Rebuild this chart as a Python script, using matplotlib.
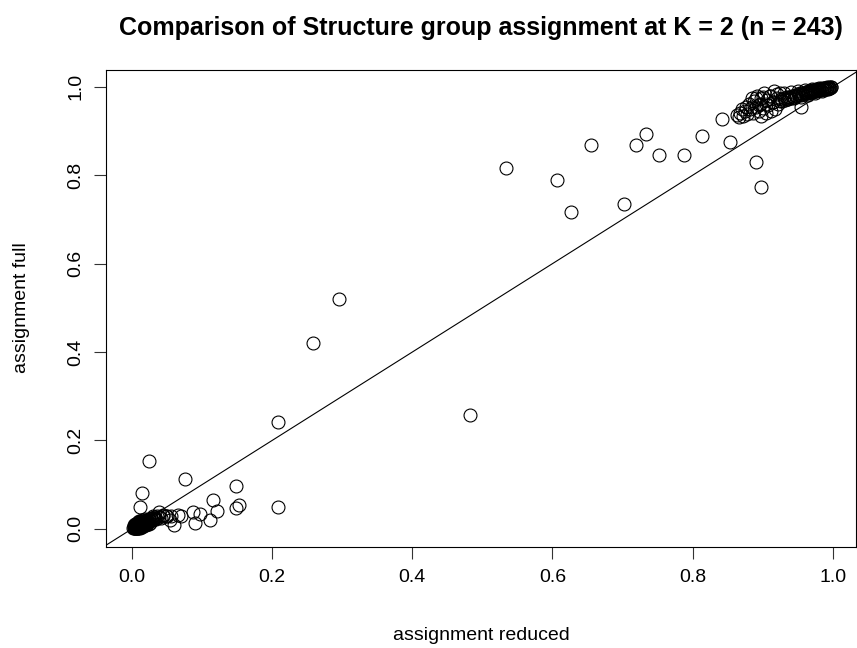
import numpy as np
import matplotlib.pyplot as plt

plt.rc('font', family='Liberation Sans', size=12)

# assignment reduced (x) / assignment full (y)
# punti sparsi
x_sparsi = [0.024, 0.076, 0.015, 0.012, 0.149, 0.116, 0.209, 0.153, 0.149, 0.121,
            0.111, 0.090, 0.087, 0.097, 0.066, 0.060, 0.054, 0.045, 0.038, 0.208,
            0.258, 0.295, 0.482, 0.534, 0.607, 0.627, 0.655, 0.702, 0.719, 0.734,
            0.752, 0.788, 0.814, 0.842, 0.853, 0.891, 0.897, 0.863, 0.954, 0.898,
            0.030, 0.034, 0.042, 0.048, 0.056, 0.070]
y_sparsi = [0.154, 0.112, 0.081, 0.050, 0.098, 0.066, 0.050, 0.054, 0.048, 0.041,
            0.020, 0.013, 0.039, 0.034, 0.032, 0.009, 0.020, 0.032, 0.039, 0.242,
            0.421, 0.520, 0.258, 0.817, 0.789, 0.717, 0.869, 0.735, 0.869, 0.893,
            0.845, 0.845, 0.888, 0.928, 0.875, 0.831, 0.773, 0.937, 0.955, 0.933,
            0.028, 0.022, 0.025, 0.030, 0.028, 0.028]

# gruppo vicino a 0
x_basso = [0.002, 0.003, 0.003, 0.004, 0.004, 0.004, 0.005, 0.005, 0.005, 0.005,
           0.006, 0.006, 0.006, 0.007, 0.007, 0.007, 0.008, 0.008, 0.008, 0.009,
           0.009, 0.009, 0.010, 0.010, 0.010, 0.011, 0.011, 0.011, 0.012, 0.012,
           0.012, 0.013, 0.013, 0.014, 0.014, 0.015, 0.015, 0.016, 0.016, 0.017,
           0.017, 0.018, 0.018, 0.019, 0.019, 0.020, 0.020, 0.021, 0.022, 0.022,
           0.023, 0.024, 0.025, 0.026, 0.027, 0.028, 0.029, 0.030, 0.031, 0.032,
           0.004, 0.006, 0.008, 0.010, 0.012, 0.014, 0.016, 0.018, 0.020, 0.024,
           0.007, 0.009, 0.011, 0.013, 0.015, 0.017, 0.019, 0.021, 0.026, 0.033,
           0.036, 0.039, 0.044, 0.050, 0.003]
y_basso = [0.001, 0.002, 0.004, 0.003, 0.005, 0.001, 0.004, 0.006, 0.002, 0.008,
           0.005, 0.003, 0.009, 0.006, 0.002, 0.010, 0.004, 0.007, 0.012, 0.006,
           0.003, 0.011, 0.008, 0.005, 0.013, 0.007, 0.010, 0.004, 0.009, 0.014,
           0.006, 0.011, 0.008, 0.012, 0.007, 0.010, 0.015, 0.013, 0.009, 0.012,
           0.017, 0.014, 0.010, 0.016, 0.012, 0.015, 0.019, 0.013, 0.017, 0.021,
           0.015, 0.019, 0.022, 0.018, 0.024, 0.021, 0.020, 0.025, 0.023, 0.027,
           0.010, 0.012, 0.015, 0.018, 0.003, 0.005, 0.006, 0.008, 0.009, 0.012,
           0.001, 0.002, 0.016, 0.018, 0.020, 0.008, 0.022, 0.010, 0.014, 0.024,
           0.030, 0.026, 0.028, 0.030, 0.008]

# gruppo vicino a 1
x_alto = [0.998, 0.997, 0.996, 0.995, 0.995, 0.994, 0.993, 0.992, 0.992, 0.991,
          0.990, 0.989, 0.988, 0.988, 0.987, 0.986, 0.985, 0.984, 0.983, 0.982,
          0.981, 0.980, 0.979, 0.978, 0.977, 0.976, 0.975, 0.974, 0.973, 0.972,
          0.971, 0.970, 0.969, 0.968, 0.967, 0.966, 0.965, 0.964, 0.963, 0.962,
          0.961, 0.960, 0.958, 0.956, 0.955, 0.953, 0.951, 0.950, 0.948, 0.946,
          0.944, 0.942, 0.940, 0.938, 0.936, 0.934, 0.932, 0.930, 0.928, 0.926,
          0.924, 0.922, 0.920, 0.918, 0.916, 0.914, 0.912, 0.910, 0.908, 0.906,
          0.904, 0.902, 0.900, 0.898, 0.896, 0.894, 0.892, 0.890, 0.888, 0.886,
          0.884, 0.882, 0.880, 0.878, 0.876, 0.874, 0.872, 0.870, 0.868, 0.866,
          0.990, 0.985, 0.980, 0.975, 0.970, 0.965, 0.960, 0.955, 0.950, 0.945,
          0.940, 0.935, 0.930, 0.925, 0.920, 0.915, 0.910, 0.905, 0.900, 0.895,
          0.890, 0.885]
y_alto = [0.999, 0.999, 0.998, 0.999, 0.997, 0.998, 0.996, 0.999, 0.997, 0.998,
          0.996, 0.997, 0.995, 0.998, 0.996, 0.994, 0.997, 0.995, 0.993, 0.996,
          0.994, 0.992, 0.995, 0.993, 0.991, 0.994, 0.992, 0.990, 0.993, 0.991,
          0.989, 0.992, 0.990, 0.988, 0.991, 0.989, 0.987, 0.990, 0.986, 0.988,
          0.985, 0.987, 0.984, 0.986, 0.982, 0.985, 0.981, 0.983, 0.979, 0.982,
          0.978, 0.980, 0.975, 0.978, 0.973, 0.976, 0.970, 0.974, 0.967, 0.972,
          0.985, 0.960, 0.975, 0.950, 0.990, 0.965, 0.945, 0.980, 0.958, 0.970,
          0.940, 0.985, 0.952, 0.975, 0.962, 0.945, 0.980, 0.955, 0.968, 0.940,
          0.975, 0.950, 0.962, 0.938, 0.955, 0.945, 0.935, 0.950, 0.940, 0.932,
          0.995, 0.990, 0.997, 0.985, 0.994, 0.982, 0.992, 0.978, 0.990, 0.975,
          0.988, 0.972, 0.985, 0.968, 0.983, 0.965, 0.980, 0.962, 0.977, 0.958,
          0.975, 0.955]

x_tick = [0.0, 0.2, 0.4, 0.6, 0.8, 1.0]
y_tick = [0.0, 0.2, 0.4, 0.6, 0.8, 1.0]

x = np.array(x_sparsi + x_basso + x_alto)
y = np.array(y_sparsi + y_basso + y_alto)
n = len(x)

fig = plt.figure(figsize=(8.57, 6.48), dpi=100)
ax = fig.add_axes([106 / 857, 1 - 547 / 648, 750 / 857, 477 / 648])

ax.plot(x, y, 'o', ms=9.3, mfc='none', mec='black', mew=0.8, ls='none')
ax.axline((0, 0), slope=1, color='black', lw=0.8)

ax.set_xlim(-0.037, 1.033)
ax.set_ylim(-0.041, 1.038)

ax.set_xticks(x_tick)
ax.set_xticklabels([f'{v:.1f}' for v in x_tick])
ax.set_yticks(y_tick)
ax.set_yticklabels([f'{v:.1f}' for v in y_tick], rotation=90, va='center')
ax.tick_params(direction='out', length=8.5, width=0.8, labelsize=14, pad=7, color='#333333')
for s in ax.spines.values():
    s.set_linewidth(0.8)

fig.text(481 / 857, 1 - 28 / 648, f'Comparison of Structure group assignment at K = 2 (n = {n})',
         ha='center', va='center', fontsize=18, fontweight='bold')
fig.text(481 / 857, 1 - 635 / 648, 'assignment reduced', ha='center', va='center', fontsize=14)
fig.text(22 / 857, 1 - 308 / 648, 'assignment full', ha='center', va='center', rotation=90, fontsize=14)

plt.savefig('out.png', dpi=100)
plt.close()
